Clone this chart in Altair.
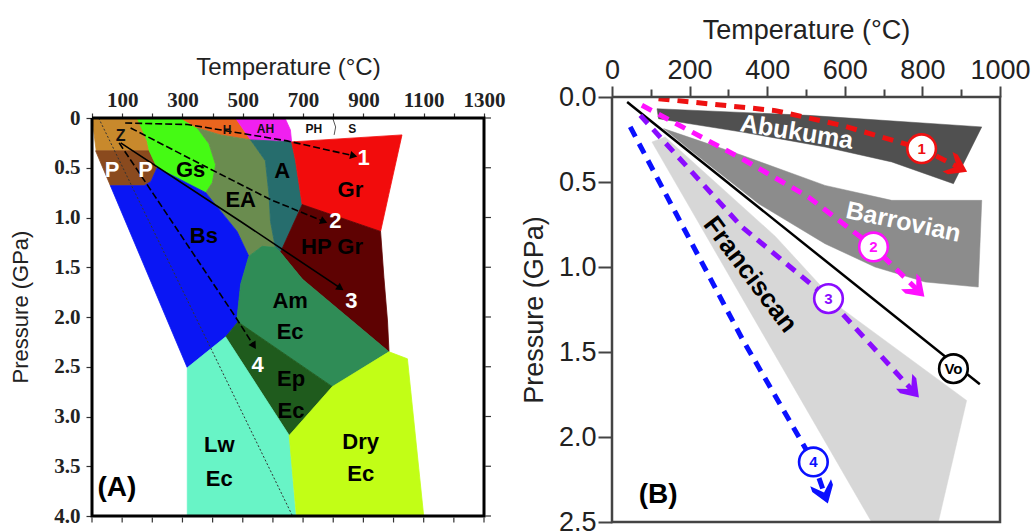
import math
import altair as alt
import pandas as pd

# ---------------- Panel A : facies polygons (Temperature degC, Pressure GPa) ----------------
A_Z = [(0, 0), (150, 0), (177, 0.16), (190, 0.33), (14, 0.33)]
A_P = [(12, 0.33), (190, 0.33), (216, 0.50), (195, 0.64), (173, 0.68), (61, 0.68)]
A_Gs = [(150, 0), (294, 0), (349, 0.10), (388, 0.26), (410, 0.47), (399, 0.65), (377, 0.75),
        (216, 0.50), (190, 0.33), (183, 0.23)]
A_H = [(294, 0), (476, 0), (526, 0.22), (426, 0.17), (349, 0.10)]
A_AH = [(476, 0), (640, 0), (658, 0.12), (662, 0.24), (526, 0.22)]
A_EA = [(349, 0.10), (426, 0.17), (526, 0.22), (575, 0.43), (587, 0.77), (592, 1.04), (608, 1.30),
        (564, 1.29), (520, 1.39), (481, 1.14), (377, 0.75), (399, 0.65), (410, 0.47), (388, 0.26)]
A_A = [(526, 0.22), (662, 0.24), (675, 0.43), (697, 0.87), (625, 1.35), (608, 1.30), (592, 1.04),
       (587, 0.77), (575, 0.43)]
A_Gr = [(662, 0.24), (1028, 0.17), (984, 0.77), (957, 1.14), (697, 0.87), (675, 0.43)]
A_HPGr = [(697, 0.87), (957, 1.14), (968, 1.60), (980, 2.04), (985, 2.35), (698, 1.62), (625, 1.35)]
A_Bs = [(61, 0.68), (173, 0.68), (195, 0.64), (216, 0.50), (377, 0.75), (481, 1.14), (520, 1.39),
        (493, 1.67), (481, 2.01), (484, 2.05), (443, 2.20), (316, 2.51)]
A_Am = [(520, 1.39), (564, 1.29), (608, 1.30), (625, 1.35), (698, 1.62), (985, 2.35), (797, 2.70),
        (484, 2.05), (481, 2.01), (493, 1.67)]
A_Ep = [(484, 2.05), (797, 2.70), (654, 3.19), (443, 2.20)]
A_Lw = [(316, 2.51), (443, 2.20), (654, 3.19), (676, 4.0), (316, 4.0)]
A_Dry = [(654, 3.19), (797, 2.70), (985, 2.35), (1046, 2.42), (1100, 4.0), (678, 4.0)]

A_dotted = [(22, 0), (665, 4.0)]
A_PH_S = [(798, 0), (808, 0.09), (803, 0.17)]
A_frame = [(0, 0), (1300, 0), (1300, 4.0), (0, 4.0), (0, 0)]

A_path1 = [(110, 0.05), (316, 0.065), (448, 0.13), (647, 0.23), (868, 0.38)]
A_path2 = [(128, 0.10), (371, 0.48), (592, 0.82), (769, 1.04)]
A_path3 = [(95, 0.25), (493, 1.04), (824, 1.71)]
A_path4 = [(90, 0.25), (205, 0.77), (476, 2.00), (537, 2.29)]

A_names = ["Gs", "EA", "A", "Gr", "Bs", "HP Gr", "Am", "Ec", "Ep", "Ec", "Lw", "Ec", "Dry", "Ec"]
A_name_T = [327, 493, 631, 857, 371, 796, 657, 657, 660, 660, 422, 422, 891, 891]
A_name_P = [0.52, 0.82, 0.53, 0.72, 1.19, 1.30, 1.84, 2.15, 2.62, 2.94, 3.29, 3.63, 3.26, 3.58]

A_white = ["1", "2", "3", "4", "P", "P"]
A_white_T = [901, 807, 860, 549, 67, 178]
A_white_P = [0.40, 1.04, 1.84, 2.48, 0.52, 0.52]

A_small = ["H", "AH", "PH", "S"]
A_small_T = [448, 575, 736, 863]
A_small_P = [0.12, 0.11, 0.11, 0.11]

A_ticks_T = list(range(0, 1301, 100))
A_ticks_P = [0, 0.5, 1.0, 1.5, 2.0, 2.5, 3.0, 3.5, 4.0]

# ---------------- Panel B : P-T gradients ----------------
B_Abukuma = [(116, 0.069), (506, 0.108), (953, 0.176), (880, 0.51), (721, 0.382), (549, 0.294),
             (335, 0.206), (120, 0.128)]
B_Barrovian = [(133, 0.186), (335, 0.343), (549, 0.52), (721, 0.608), (953, 0.608), (944, 1.118),
               (807, 1.088), (678, 1.0), (549, 0.863), (378, 0.628), (206, 0.32)]
B_Franciscan = [(103, 0.265), (137, 0.235), (421, 0.82), (592, 1.245), (914, 1.785), (841, 2.5),
                (669, 2.5)]
B_Vo = [(39, 0.03), (948, 1.69)]
B_path1 = [(120, 0.01), (421, 0.08), (592, 0.167), (798, 0.304), (890, 0.41)]
B_path2 = [(77, 0.049), (335, 0.363), (506, 0.588), (674, 0.882), (785, 1.13)]
B_path3 = [(73, 0.108), (335, 0.765), (558, 1.186), (772, 1.72)]
B_path4 = [(47, 0.176), (335, 1.42), (519, 2.147), (547, 2.33)]
B_frame = [(0, 0), (1000, 0), (1000, 2.5), (0, 2.5), (0, 0)]

B_circ = ["1", "2", "3", "4", "Vo"]
B_circ_T = [798, 674, 558, 519, 880]
B_circ_P = [0.304, 0.882, 1.186, 2.147, 1.598]

B_ticks_T = list(range(0, 1001, 100))
B_ticks_P = [0, 0.5, 1.0, 1.5, 2.0, 2.5]

# ---------------- styling ----------------
WA, HA = 392, 419          # panel A plot area; its frame starts 21 px below the top
A_TOP_GAP = 21
WB, HB = 388, 425
SANS = "Liberation Sans"
SERIF = "Liberation Serif"
A_PX_PER_GPA = (HA - A_TOP_GAP) / 4.0

colA = {"Z": "#c8892c", "P": "#8a4a1e", "Gs": "#45fa14", "H": "#ea651e", "AH": "#f020f0",
        "EA": "#6a8c4f", "A": "#266d6d", "Gr": "#f20c0c", "HPGr": "#5e0202", "Bs": "#0a16f4",
        "Am": "#2f8c56", "Ep": "#1f5b1d", "Lw": "#68f4c6", "Dry": "#c2fe16"}

scAx = alt.Scale(domain=[0, 1300], nice=False, zero=False)
scAy = alt.Scale(domain=[-A_TOP_GAP / A_PX_PER_GPA, 4], reverse=True, nice=False, zero=False)
scBx = alt.Scale(domain=[0, 1000], nice=False, zero=False)
scBy = alt.Scale(domain=[0, 2.5], reverse=True, nice=False, zero=False)

axAx = alt.Axis(
    orient="top", offset=-A_TOP_GAP, values=A_ticks_T,
    labelExpr="datum.value % 200 == 100 ? format(datum.value, 'd') : ''",
    labelFont=SERIF, labelFontSize=21, labelFontWeight="bold", labelColor="#222222",
    labelFlush=False, labelOverlap=False, labelPadding=3, tickSize=5, tickWidth=1.2,
    tickColor="#333333", domain=False, grid=False, title="Temperature (°C)", titleFont=SANS,
    titleFontSize=24, titleFontWeight="normal", titleColor="#222222", titlePadding=10)
axAy = alt.Axis(
    orient="left", values=A_ticks_P,
    labelExpr="datum.value == 0 ? '0' : format(datum.value, '.1f')",
    labelFont=SERIF, labelFontSize=21, labelFontWeight="bold", labelColor="#222222",
    labelFlush=False, labelOverlap=False, labelPadding=6, tickSize=6, tickWidth=1.2,
    tickColor="#333333", domain=False, grid=False, title="Pressure (GPa)", titleFont=SANS,
    titleFontSize=22, titleFontWeight="normal", titleColor="#222222", titlePadding=21)
axBx = alt.Axis(
    orient="top", values=B_ticks_T,
    labelExpr="datum.value % 200 == 0 ? format(datum.value, 'd') : ''",
    labelFont=SANS, labelFontSize=27, labelColor="#222222", labelFlush=False,
    labelOverlap=False, labelPadding=2,
    tickSize={"condition": {"test": "datum.value % 200 == 0", "value": 11}, "value": 8},
    tickWidth=2, tickColor="#444444", domain=False, grid=False,
    title="Temperature (°C)", titleFont=SANS, titleFontSize=27, titleFontWeight="normal",
    titleColor="#222222", titlePadding=12)
axBy = alt.Axis(
    orient="left", values=B_ticks_P, format=".1f",
    labelFont=SANS, labelFontSize=27, labelColor="#222222", labelFlush=False,
    labelOverlap=False, labelPadding=2, tickSize=14, tickWidth=2, tickColor="#444444",
    domain=False, grid=False, title="Pressure (GPa)", titleFont=SANS, titleFontSize=27,
    titleFontWeight="normal", titleColor="#222222", titlePadding=10)

PANEL = {"A": (scAx, scAy, axAx, axAy), "B": (scBx, scBy, axBx, axBy)}


def enc(pn):
    sx, sy, ax, ay = PANEL[pn]
    return dict(x=alt.X("T:Q", scale=sx, axis=ax), y=alt.Y("P:Q", scale=sy, axis=ay))


def df_of(pts, close=False):
    p = list(pts) + ([pts[0]] if close else [])
    return pd.DataFrame({"T": [a for a, _ in p], "P": [b for _, b in p], "i": list(range(len(p)))})


def polygon(pts, color, pn, sw=0.8):
    return alt.Chart(df_of(pts, close=True)).mark_line(
        fill=color, stroke=color, strokeWidth=sw, strokeJoin="round"
    ).encode(order="i:Q", **enc(pn))


def path(pts, color, pn, width, dash=None):
    kw = dict(stroke=color, strokeWidth=width)
    if dash:
        kw["strokeDash"] = dash
    return alt.Chart(df_of(pts)).mark_line(**kw).encode(order="i:Q", **enc(pn))


def heading(pts, pxT, pxP):
    (t1, p1), (t2, p2) = pts[-2], pts[-1]
    dx, dy = (t2 - t1) * pxT, (p2 - p1) * pxP
    return math.degrees(math.atan2(dx, -dy)) % 360


def heads(paths, colors, pn, pxT, pxP, shape, size):
    d = pd.DataFrame({"T": [p[-1][0] for p in paths], "P": [p[-1][1] for p in paths],
                      "ang": [heading(p, pxT, pxP) for p in paths], "c": colors})
    return alt.Chart(d).mark_point(shape=shape, filled=True, size=size, opacity=1, strokeWidth=0).encode(
        angle=alt.Angle("ang:Q", scale=None), color=alt.Color("c:N", scale=None), **enc(pn))


def texts(labels, Ts, Ps, pn, **mk):
    d = pd.DataFrame({"T": Ts, "P": Ps, "label": labels})
    return alt.Chart(d).mark_text(**mk).encode(text="label:N", **enc(pn))


# ---------------- Panel A ----------------
layersA = [polygon(pts, colA[k], "A") for k, pts in [
    ("Z", A_Z), ("P", A_P), ("Gs", A_Gs), ("H", A_H), ("AH", A_AH), ("EA", A_EA), ("A", A_A),
    ("Gr", A_Gr), ("HPGr", A_HPGr), ("Bs", A_Bs), ("Am", A_Am), ("Ep", A_Ep), ("Lw", A_Lw),
    ("Dry", A_Dry)]]
layersA.append(path(A_dotted, "#333333", "A", 1, [2, 2]))
layersA.append(path(A_PH_S, "#555555", "A", 1))
for pth, dash in [(A_path1, [7, 3]), (A_path2, [7, 3]), (A_path3, None), (A_path4, [7, 3])]:
    layersA.append(path(pth, "black", "A", 1.6, dash))
layersA.append(heads([A_path1, A_path2, A_path3, A_path4], ["black"] * 4, "A",
                     WA / 1300, A_PX_PER_GPA, "triangle-up", 70))
layersA.append(texts(A_names, A_name_T, A_name_P, "A", font=SANS, fontSize=22,
                     fontWeight="bold", color="black"))
layersA.append(texts(A_white, A_white_T, A_white_P, "A", font=SANS, fontSize=22,
                     fontWeight="bold", color="white"))
layersA.append(texts(["Z"], [95], [0.18], "A", font=SANS, fontSize=16,
                     fontWeight="bold", color="#111111"))
layersA.append(texts(A_small, A_small_T, A_small_P, "A", font=SANS, fontSize=12,
                     fontWeight="bold", color="#111111"))
layersA.append(texts(["(A)"], [18], [3.72], "A", font=SANS, fontSize=28,
                     fontWeight="bold", color="black", align="left"))
layersA.append(path(A_frame, "#000000", "A", 3))
# outward ticks on the bottom and right edges of frame A
tb = pd.DataFrame({"T": A_ticks_T, "P": [4.0] * len(A_ticks_T)})
layersA.append(alt.Chart(tb).mark_tick(orient="vertical", size=5, thickness=1.2, yOffset=4,
                                       color="#333333", opacity=1).encode(**enc("A")))
tr = pd.DataFrame({"T": [1300] * len(A_ticks_P), "P": A_ticks_P})
layersA.append(alt.Chart(tr).mark_tick(orient="horizontal", size=6, thickness=1.2, xOffset=4,
                                       color="#333333", opacity=1).encode(**enc("A")))

panelA = alt.layer(*layersA).properties(width=WA, height=HA)

# ---------------- Panel B ----------------
layersB = [
    polygon(B_Franciscan, "#d7d7d7", "B", 0.5),
    polygon(B_Barrovian, "#8c8c8c", "B", 0.5),
    polygon(B_Abukuma, "#505050", "B", 0.5),
    path(B_Vo, "black", "B", 2.5),
]
colsB = ["#ee1111", "#ff10ff", "#8a0cff", "#0a10ff"]
for pth, c in zip([B_path1, B_path2, B_path3, B_path4], colsB):
    layersB.append(path(pth, c, "B", 5, [11, 8]))
chevron = "M0,-1L1,0.45L1,1L0,0.05L-1,1L-1,0.45Z"
layersB.append(heads([B_path1, B_path2, B_path3, B_path4], colsB, "B",
                     WB / 1000, HB / 2.5, chevron, 480))
circ_df = pd.DataFrame({"T": B_circ_T, "P": B_circ_P, "label": B_circ,
                        "c": colsB + ["black"]})
layersB.append(alt.Chart(circ_df).mark_point(shape="circle", filled=False, fill="white",
                                             fillOpacity=1, size=820, strokeWidth=2.6, opacity=1).encode(
    stroke=alt.Stroke("c:N", scale=None), **enc("B")))
layersB.append(alt.Chart(circ_df).mark_text(font=SANS, fontSize=15, fontWeight="bold").encode(
    text="label:N", color=alt.Color("c:N", scale=None), **enc("B")))
layersB.append(texts(["Abukuma"], [476], [0.206], "B", font=SANS, fontSize=25,
                     fontWeight="bold", color="white", angle=9))
layersB.append(texts(["Barrovian"], [751], [0.735], "B", font=SANS, fontSize=25,
                     fontWeight="bold", color="white", angle=12))
layersB.append(texts(["Franciscan"], [356], [1.044], "B", font=SANS, fontSize=26,
                     fontWeight="bold", color="black", angle=53))
layersB.append(texts(["(B)"], [69], [2.34], "B", font=SANS, fontSize=28,
                     fontWeight="bold", color="black", align="left"))
layersB.append(path(B_frame, "#444444", "B", 2.5))

panelB = alt.layer(*layersB).properties(width=WB, height=HB)

chart = alt.hconcat(panelA, panelB, spacing=15).properties(
    padding={"left": 9, "top": 16, "right": 0, "bottom": 0},
    background="white",
).configure_view(stroke=None)

chart.save("out.html", embed_options={"renderer": "svg", "actions": False})
